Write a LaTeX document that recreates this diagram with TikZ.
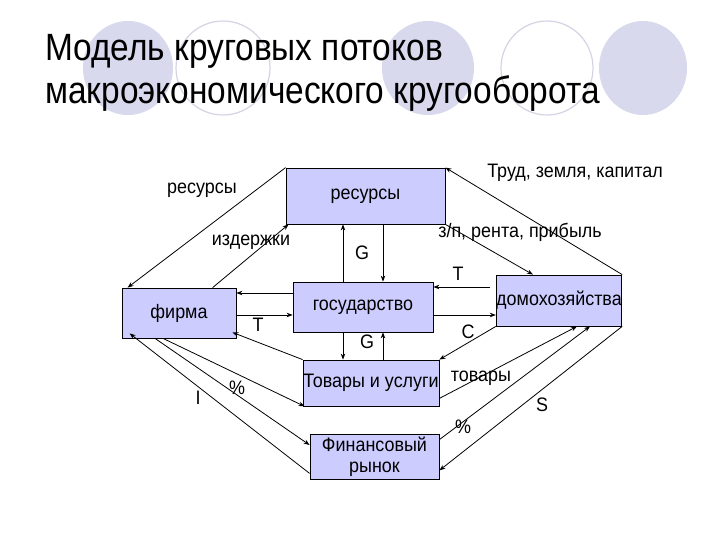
\documentclass[tikz,border=0pt]{standalone}
\usepackage{fontspec}
\setmainfont{Liberation Sans}
\newfontfamily\titlefont[FakeStretch=0.88]{Liberation Sans}
\newfontfamily\diagfont[FakeStretch=0.92]{Liberation Sans}
\usetikzlibrary{arrows.meta}
\definecolor{boxfill}{HTML}{CCCCFF}
\definecolor{circfill}{HTML}{D9D9EE}
\definecolor{circline}{HTML}{D4D4E4}
\begin{document}
\begin{tikzpicture}[x=1pt,y=-1pt,
  box/.style={draw=black, fill=boxfill, line width=0.8pt, inner sep=0pt, align=center,
    font=\diagfont\fontsize{19.5}{21}\selectfont},
  arr/.style={draw=black, line width=0.8pt, -{Stealth[length=6pt,width=4.5pt]}},
  lbl/.style={font=\diagfont\fontsize{19.5}{21}\selectfont, inner sep=0pt},
  fcirc/.style={fill=circfill, draw=none},
  ocirc/.style={fill=white, draw=circline, line width=1.2pt}]
\useasboundingbox (0,0) rectangle (720,540);
\fill[white] (0,0) rectangle (720,540);
% decorative circles
\path[fcirc] (128,68) ellipse [x radius=45, y radius=47];
\path[ocirc] (223,68) ellipse [x radius=47, y radius=47];
\path[fcirc] (428,68) ellipse [x radius=46, y radius=47];
\path[ocirc] (547,68) ellipse [x radius=46, y radius=47];
\path[fcirc] (643,68) ellipse [x radius=44, y radius=47];
% title
\node[anchor=base west, inner sep=0pt, font=\titlefont\fontsize{38}{44}\selectfont] (t1) at (45,61) {Модель круговых потоков};
\node[anchor=base west, inner sep=0pt, font=\titlefont\fontsize{38}{44}\selectfont] (t2) at (45,104) {макроэкономического кругооборота};
% boxes
\node[box, minimum width=159pt, minimum height=56pt] (res) at (365.5,196) {ресурсы};
\node[box, minimum width=114pt, minimum height=50pt] (firm) at (179,313) {фирма};
\node[box, minimum width=140pt, minimum height=50pt] (gov) at (363,307) {государство};
\node[box, minimum width=136pt, minimum height=46pt] (goods) at (371,383) {Товары и услуги};
\node[box, minimum width=129pt, minimum height=45pt] (fin) at (374.5,456.5) {Финансовый\\рынок};
\node[box, minimum width=124pt, minimum height=51pt] (hh) at (559,300.5) {домохозяйства};
% connectors
\draw[arr] (res.north west) -- ([xshift=6pt]firm.north west);
\draw[arr] ([xshift=91pt]firm.north west) -- ([xshift=3pt]res.south west);
\draw[arr] ([xshift=-20pt]gov.north) -- ([xshift=-20pt]gov.north |- res.south);
\draw[arr] ([xshift=20pt]gov.north |- res.south) -- ([xshift=20pt]gov.north);
\draw[arr] (hh.north east) -- (res.north east);
\draw[arr] (res.south east) -- ([xshift=-26pt]hh.north);
\coordinate (tstart) at (490,287);
\draw[arr] (tstart) -- (tstart -| gov.east);
\draw[arr] ([yshift=-8pt]gov.east) -- ([yshift=-8pt]gov.east -| hh.west);
\draw[arr] (hh.south west) -- (goods.north east);
\draw[arr] ([yshift=8pt]goods.south east) -- ([xshift=18pt]hh.south);
\draw[arr] ([yshift=-6pt]fin.north east) -- ([xshift=31pt]hh.south);
\draw[arr] (hh.south east) -- ([yshift=9pt]fin.south east);
\draw[arr] ([yshift=14pt]gov.west) -- ([yshift=14pt]gov.west -| firm.east);
\draw[arr] ([yshift=-8pt]gov.west -| firm.east) -- ([yshift=-8pt]gov.west);
\draw[arr] ([xshift=-20pt]gov.south) -- ([xshift=-20pt]gov.south |- goods.north);
\draw[arr] ([xshift=20pt]gov.south |- goods.north) -- ([xshift=20pt]gov.south);
\draw[arr] (goods.north west) -- ([xshift=-4pt,yshift=6pt]firm.south east);
\draw[arr] ([xshift=-16pt]firm.south) -- ([xshift=2pt]goods.south west);
\draw[arr] ([xshift=-24pt]firm.south) -- ([yshift=11.5pt]fin.west);
\draw[arr] ([yshift=6pt]fin.south west) -- ([xshift=8pt,yshift=5pt]firm.south west);
% labels
\node[lbl] (l1) at (202,190) {ресурсы};
\node[lbl] (l2) at (251,242) {издержки};
\node[lbl] (l3) at (362,253) {G};
\node[lbl] (l4) at (575,173) {Труд, земля, капитал};
\node[lbl] (l5) at (520,232) {з/п, рента, прибыль};
\node[lbl] (l6) at (458,274) {T};
\node[lbl] (l7) at (468,332) {C};
\node[lbl] (l8) at (481,378) {товары};
\node[lbl] (l9) at (463,427) {\%};
\node[lbl] (l10) at (542,405) {S};
\node[lbl] (l11) at (258,325) {T};
\node[lbl] (l12) at (367,342) {G};
\node[lbl] (l13) at (237,388) {\%};
\node[lbl] (l14) at (198,398) {I};
\end{tikzpicture}
\end{document}
